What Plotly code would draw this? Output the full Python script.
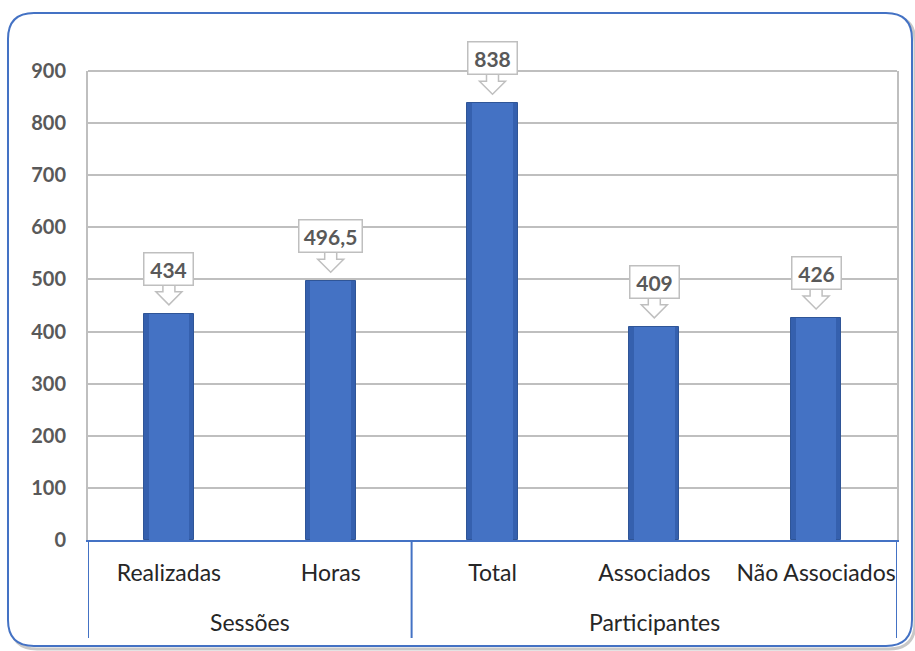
import plotly.graph_objects as go

# data
grupos = ["Sessões", "Participantes"]
grupo_inicio = [0, 2]          # first category index of each group
grupo_tamanho = [2, 3]
categorias = ["Realizadas", "Horas", "Total", "Associados", "Não Associados"]
valores = [434, 496.5, 838, 409, 426]
y_ticks = [0, 100, 200, 300, 400, 500, 600, 700, 800, 900]

W, H = 915, 651
L, R, T, B = 88, 897, 71, 540  # plot area in pixels

AZUL = "#4472C4"
AZUL_ESCURO = "#2F5597"
CINZA_TXT = "#595959"
GRADE = "#BFBFBF"
FONTE = "Lato"


def rotulo(v):
    return ("%g" % v).replace(".", ",")


def px2paper(x, y):
    return (x - L) / (R - L), (B - y) / (B - T)


def moldura(x0, y0, x1, y1, r):
    pts = [
        ("M", [(x0 + r, y0)]), ("L", [(x1 - r, y0)]), ("Q", [(x1, y0), (x1, y0 + r)]),
        ("L", [(x1, y1 - r)]), ("Q", [(x1, y1), (x1 - r, y1)]),
        ("L", [(x0 + r, y1)]), ("Q", [(x0, y1), (x0, y1 - r)]),
        ("L", [(x0, y0 + r)]), ("Q", [(x0, y0), (x0 + r, y0)]),
    ]
    s = ""
    for cmd, ps in pts:
        s += cmd + " ".join("%.5f,%.5f" % px2paper(px, py) for px, py in ps) + " "
    return s + "Z"


fig = go.Figure()
# outer (darker) bar + inner bar to fake the bevel look
fig.add_trace(go.Bar(
    x=categorias, y=valores, width=0.31,
    marker=dict(color="#3560AE", line=dict(color=AZUL_ESCURO, width=1)),
    hoverinfo="skip",
))
fig.add_trace(go.Bar(
    x=categorias, y=valores, width=0.25,
    marker=dict(color=AZUL, line=dict(width=0)),
    hoverinfo="skip",
))

shapes = []
# outer frame with shadow
shapes.append(dict(type="path", xref="paper", yref="paper", layer="below",
                   path=moldura(11, 16, 915, 649, 26),
                   line=dict(color="#C8C8C8", width=3), fillcolor="rgba(0,0,0,0)"))
shapes.append(dict(type="path", xref="paper", yref="paper", layer="below",
                   path=moldura(8, 13, 912, 646, 26),
                   line=dict(color=AZUL, width=2), fillcolor="white"))
# top border of plot area
shapes.append(dict(type="line", xref="paper", yref="paper", x0=0, x1=1, y0=1, y1=1,
                   line=dict(color=GRADE, width=2)))

# group dividers under the axis
fim_div = px2paper(0, 638)[1]
bordas = [grupo_inicio[0] - 0.5] + [s + n - 0.5 for s, n in zip(grupo_inicio, grupo_tamanho)]
for xb in bordas:
    shapes.append(dict(type="line", xref="x", yref="paper", x0=xb, x1=xb, y0=0, y1=fim_div,
                       line=dict(color=AZUL, width=2)))

annotations = []
for g, s, n in zip(grupos, grupo_inicio, grupo_tamanho):
    annotations.append(dict(x=s + (n - 1) / 2, y=0, xref="x", yref="paper", text=g,
                            showarrow=False, yanchor="middle", yshift=-82,
                            font=dict(size=23, color="#262626", family=FONTE)))

for i, v in enumerate(valores):
    txt = rotulo(v)
    w = 46 if len(txt) <= 3 else 60
    # hollow arrow pointing at the bar
    path = "M -6,29 L -6,22 L -13,22 L 0,9 L 13,22 L 6,22 L 6,29 Z"
    shapes.append(dict(type="path", xref="x", yref="y", xsizemode="pixel",
                       ysizemode="pixel", xanchor=i, yanchor=v, path=path,
                       fillcolor="white", line=dict(color=GRADE, width=1.5)))
    annotations.append(dict(x=i, y=v, xref="x", yref="y", text="<b>%s</b>" % txt,
                            showarrow=False, yshift=45, width=w, height=29,
                            bgcolor="white", bordercolor=GRADE, borderwidth=1.5,
                            borderpad=1,
                            font=dict(size=21, color=CINZA_TXT, family=FONTE)))

fig.update_layout(
    width=W, height=H,
    margin=dict(l=L, r=W - R, t=T, b=H - B, autoexpand=False),
    paper_bgcolor="white",
    plot_bgcolor="#F2F2F2",
    showlegend=False,
    barmode="overlay",
    bargap=0,
    shapes=shapes,
    annotations=annotations,
    font=dict(family=FONTE, color="#262626"),
    xaxis=dict(
        type="category",
        range=[-0.5, 4.5],
        showline=True, linecolor=AZUL, linewidth=2,
        tickfont=dict(size=23, color="#262626", family=FONTE),
        showgrid=False, ticks="", ticklabelstandoff=11,
        automargin=False,
    ),
    yaxis=dict(
        range=[0, 900],
        tickvals=y_ticks,
        showgrid=True, gridcolor=GRADE, gridwidth=2,
        showline=True, linecolor=GRADE, linewidth=2, mirror=True,
        zeroline=False,
        tickfont=dict(size=20, color=CINZA_TXT, family=FONTE, weight="bold"),
        ticks="", ticklabelstandoff=16,
        automargin=False,
    ),
)

fig.write_html("out.html", config={"displayModeBar": False},
               post_script="document.body.style.margin='0';")
